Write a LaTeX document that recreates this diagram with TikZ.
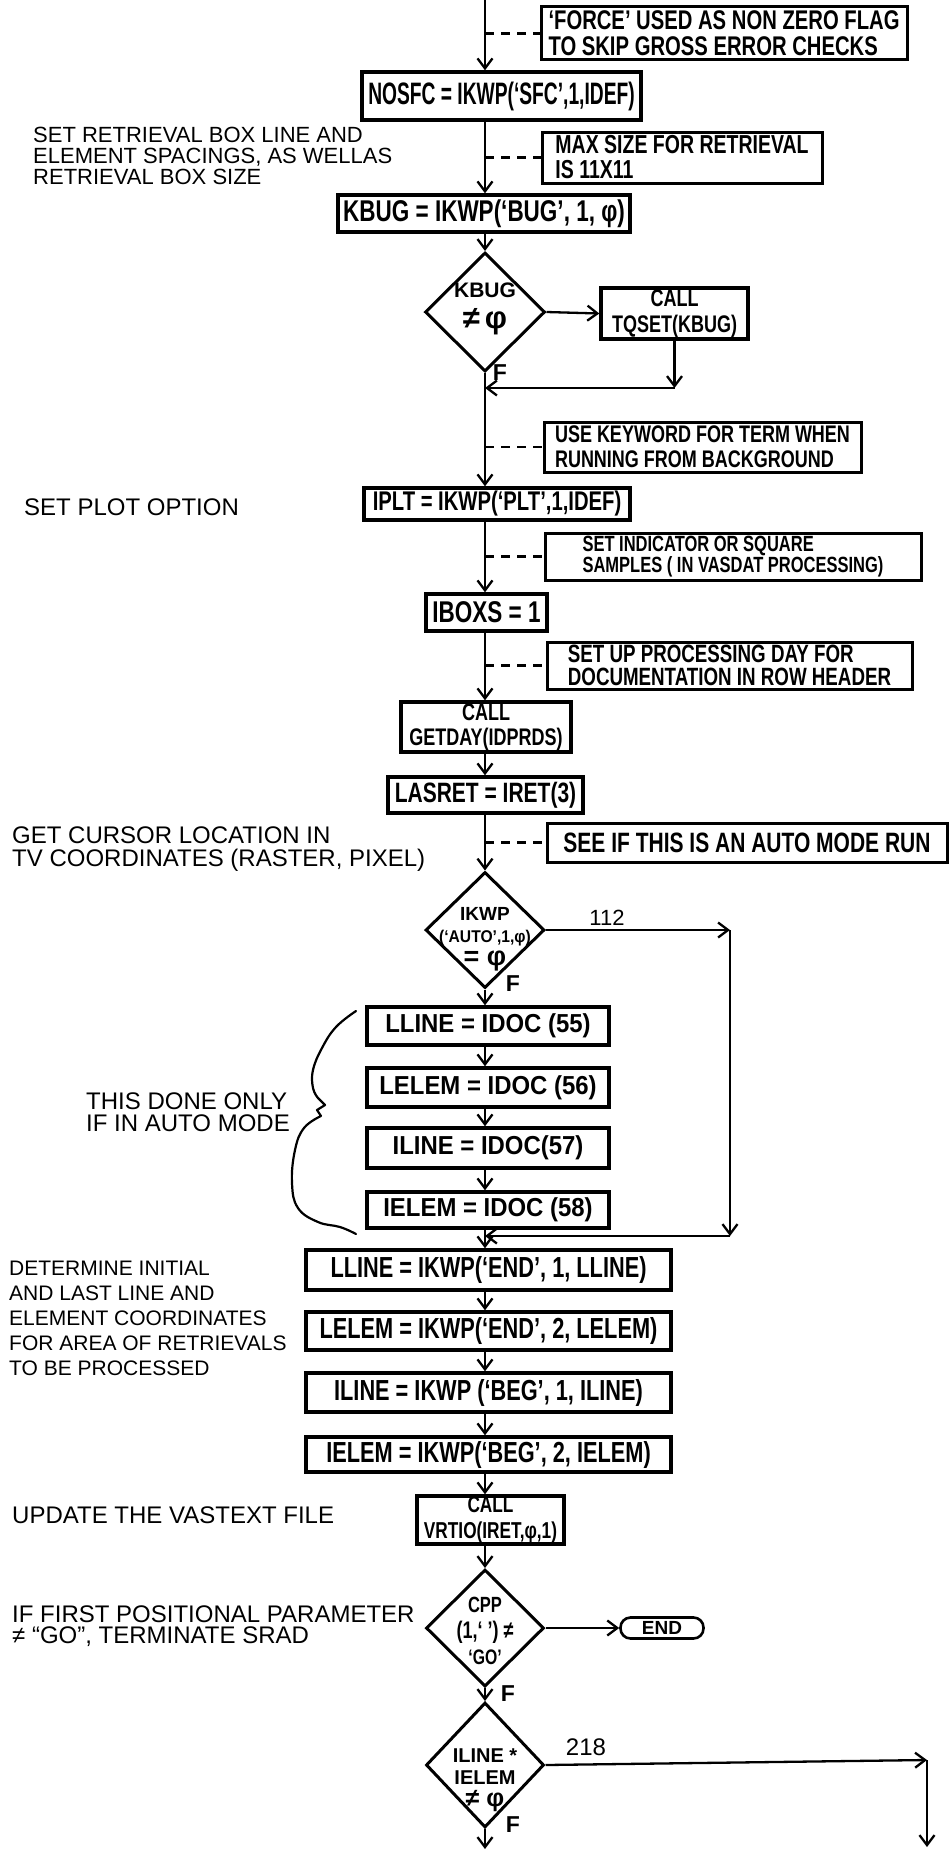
\documentclass[tikz,border=0pt]{standalone}
\usepackage{fontspec}
\setmainfont{Liberation Sans}
\newfontfamily\nfont{Liberation Sans}[FakeStretch=0.62]
\newfontfamily\mfont{Liberation Sans}[FakeStretch=0.75]
\newfontfamily\wfont{Liberation Sans}[FakeStretch=0.92]
\usetikzlibrary{arrows.meta,shapes.geometric}
\newcommand\fsz[2]{\fontsize{#1}{#2}\selectfont}

\tikzset{
  flow/.style={line width=2.3pt},
  arr/.style={line width=2.3pt,-{Straight Barb[length=10pt,width=15pt]}},
  dashlink/.style={line width=2.5pt,dash pattern=on 9pt off 7pt},
  pbox/.style={draw,line width=3.4pt,inner sep=0pt,align=center},
  cbox/.style={draw,line width=3pt,inner sep=0pt,align=left,font=\mfont\bfseries\fsz{26}{25}},
  dec/.style={diamond,draw,line width=3pt,inner sep=0pt},
  dtext/.style={inner sep=0pt,align=center},
  note/.style={anchor=west,inner sep=0pt,align=left,font=\fsz{24}{22}},
  lbl/.style={inner sep=0pt,font=\bfseries\fsz{23}{23}},
  term/.style={draw,line width=2.6pt,rounded corners=10pt,inner sep=0pt},
}

\begin{document}
\begin{tikzpicture}[x=1pt,y=-1pt]
\fill[white] (0,0) rectangle (950,1852);
\useasboundingbox (0,0) rectangle (950,1852);

% spine of the main flow
\coordinate (sp) at (485,0);

% ---------- process boxes ----------
\node[pbox,minimum width=279pt,minimum height=48pt,font=\nfont\bfseries\fsz{31}{30}] (nosfc) at (501.5,96) {NOSFC = IKWP(‘SFC’,1,IDEF)};
\node[pbox,minimum width=292pt,minimum height=37pt,font=\mfont\bfseries\fsz{30}{30}] (kbugbox) at (484,213.5) {KBUG = IKWP(‘BUG’, 1, φ)};
\node[pbox,minimum width=147pt,minimum height=51pt,font=\mfont\bfseries\fsz{24}{26}] (tqset) at (674.5,313.5) {CALL\\TQSET(KBUG)};
\node[pbox,minimum width=266pt,minimum height=32pt,font=\mfont\bfseries\fsz{27}{28}] (iplt) at (497,504) {IPLT = IKWP(‘PLT’,1,IDEF)};
\node[pbox,minimum width=121pt,minimum height=37pt,font=\mfont\bfseries\fsz{30}{30}] (iboxs) at (486.5,612.5) {IBOXS = 1};
\node[pbox,minimum width=170pt,minimum height=50pt,font=\mfont\bfseries\fsz{24}{25}] (getday) at (486,727) {CALL\\GETDAY(IDPRDS)};
\node[pbox,minimum width=195pt,minimum height=36pt,font=\mfont\bfseries\fsz{28}{28}] (lasret) at (485.5,795) {LASRET = IRET(3)};

\node[pbox,minimum width=242pt,minimum height=38pt,font=\wfont\bfseries\fsz{26}{27}] (llidoc) at (488,1026) {LLINE = IDOC (55)};
\node[pbox,minimum width=242pt,minimum height=39pt,font=\wfont\bfseries\fsz{26}{27}] (leidoc) at (488,1087.5) {LELEM = IDOC (56)};
\node[pbox,minimum width=242pt,minimum height=40pt,font=\wfont\bfseries\fsz{26}{27}] (ilidoc) at (488,1148) {ILINE = IDOC(57)};
\node[pbox,minimum width=242pt,minimum height=36pt,font=\wfont\bfseries\fsz{26}{27}] (ieidoc) at (488,1210) {IELEM = IDOC (58)};

\node[pbox,minimum width=365pt,minimum height=40pt,font=\mfont\bfseries\fsz{29}{30}] (llkwp) at (488.5,1270) {LLINE = IKWP(‘END’, 1, LLINE)};
\node[pbox,minimum width=365pt,minimum height=38pt,font=\mfont\bfseries\fsz{29}{30}] (lekwp) at (488.5,1331) {LELEM = IKWP(‘END’, 2, LELEM)};
\node[pbox,minimum width=365pt,minimum height=39pt,font=\mfont\bfseries\fsz{29}{30}] (ilkwp) at (488.5,1392.5) {ILINE = IKWP (‘BEG’, 1, ILINE)};
\node[pbox,minimum width=365pt,minimum height=35pt,font=\mfont\bfseries\fsz{29}{30}] (iekwp) at (488.5,1454.5) {IELEM = IKWP(‘BEG’, 2, IELEM)};

\node[pbox,minimum width=147pt,minimum height=48pt,font=\mfont\bfseries\fsz{23}{26}] (vrtio) at (490.5,1520) {CALL\\VRTIO(IRET,φ,1)};

% ---------- decisions ----------
\node[dec,minimum width=120pt,minimum height=119pt] (kbugd) at (485,312) {};
\node[dtext,font=\bfseries\fsz{21}{31}] (kbugt) at (485,309) {KBUG\\\fsz{31}{31}≠\,φ};

\node[dec,minimum width=119pt,minimum height=116pt] (autod) at (485,930) {};
\node[dtext,font=\bfseries\fsz{19}{22}] (autot) at (485,939) {IKWP\\\wfont\fsz{17}{22}(‘AUTO’,1,φ)\\[1pt]\fsz{27}{22}= φ};

\node[dec,minimum width=118pt,minimum height=117pt] (cppd) at (485,1628) {};
\node[dtext,font=\mfont\bfseries\fsz{22}{26}] (cppt) at (485,1631) {CPP\\\fsz{24}{26}(1,‘ ’) ≠\\\fsz{21}{26}‘GO’};

\node[dec,minimum width=118pt,minimum height=125pt] (ilied) at (485,1765) {};
\node[dtext,font=\bfseries\fsz{20}{22}] (iliet) at (485,1780) {ILINE *\\IELEM\\\fsz{25}{22}≠ φ};

\node[term,minimum width=83pt,minimum height=21pt,font=\bfseries\fsz{19}{20}] (endt) at (662,1628) {END};

% ---------- comment boxes ----------
\node[cbox,minimum width=366pt,minimum height=53pt,font=\mfont\bfseries\fsz{27}{26}] (force) at (724,33.5) {‘FORCE’ USED AS NON ZERO FLAG\\TO SKIP GROSS ERROR CHECKS};
\node[cbox,minimum width=280pt,minimum height=51pt] (maxsz) at (682,157.5) {MAX SIZE FOR RETRIEVAL\\IS 11X11};
\node[cbox,minimum width=317pt,minimum height=50pt,font=\mfont\bfseries\fsz{24}{25}] (usekw) at (702.5,447) {USE KEYWORD FOR TERM WHEN\\RUNNING FROM BACKGROUND};
\node[cbox,minimum width=376pt,minimum height=47pt,font=\mfont\bfseries\fsz{22}{21}] (setind) at (733,556.5) {SET INDICATOR OR SQUARE\\SAMPLES ( IN VASDAT PROCESSING)};
\node[cbox,minimum width=365pt,minimum height=47pt,font=\mfont\bfseries\fsz{25}{23}] (setup) at (729.5,665.5) {SET UP PROCESSING DAY FOR\\DOCUMENTATION IN ROW HEADER};
\node[cbox,minimum width=400pt,minimum height=39pt,font=\mfont\bfseries\fsz{28}{28}] (seeif) at (747,842.5) {SEE IF THIS IS AN AUTO MODE RUN};

% ---------- side notes ----------
\node[note,font=\fsz{22}{21}] (setret) at (33,156) {SET RETRIEVAL BOX LINE AND\\ELEMENT SPACINGS, AS WELLAS\\RETRIEVAL BOX SIZE};
\node[note] (setplot) at (24,507) {SET PLOT OPTION};
\node[note,font=\fsz{24}{23}] (getcur) at (12,849) {GET CURSOR LOCATION IN\\TV COORDINATES (RASTER, PIXEL)};
\node[note] (thisdone) at (86,1112) {THIS DONE ONLY\\IF IN AUTO MODE};
\node[note,font=\fsz{21}{25}] (determine) at (9,1318) {DETERMINE INITIAL\\AND LAST LINE AND\\ELEMENT COORDINATES\\FOR AREA OF RETRIEVALS\\TO BE PROCESSED};
\node[note] (update) at (12,1515) {UPDATE THE VASTEXT FILE};
\node[note,font=\fsz{24}{21}] (iffirst) at (12,1626) {IF FIRST POSITIONAL PARAMETER\\≠ “GO”, TERMINATE SRAD};

% ---------- branch labels ----------
\node[lbl] (f1) at (500,373) {F};
\node[lbl] (f2) at (513,984) {F};
\node[lbl] (f3) at (508,1694) {F};
\node[lbl] (f4) at (513,1825) {F};
\node[lbl,font=\fsz{22}{22}] (l112) at (607,918) {112};
\node[lbl,font=\fsz{24}{24}] (l218) at (586,1747) {218};

% ---------- connector corner points ----------
\coordinate (topin) at (485,0);
\coordinate (mr) at (674.5,388);
\coordinate (c112) at (730,930);
\coordinate (j112) at (730,1236);
\coordinate (c218) at (927,1760);
\coordinate (e218) at (927,1847);
\coordinate (outF) at (485,1849);

% ---------- main flow ----------
\draw[arr] (topin) -- (topin |- nosfc.north);
\draw[arr] (sp |- nosfc.south) -- (sp |- kbugbox.north);
\draw[arr] (sp |- kbugbox.south) -- (kbugd.north);
\draw[arr] (kbugd.east) -- (tqset.west);
\draw[arr] (tqset.south) -- (mr);
\draw[arr] (mr) -- (mr -| sp);
\draw[arr] (kbugd.south) -- (sp |- iplt.north);
\draw[arr] (sp |- iplt.south) -- (sp |- iboxs.north);
\draw[arr] (sp |- iboxs.south) -- (sp |- getday.north);
\draw[arr] (sp |- getday.south) -- (sp |- lasret.north);
\draw[arr] (sp |- lasret.south) -- (autod.north);
\draw[arr] (autod.east) -- (c112);
\draw[arr] (c112) -- (j112);
\draw[arr] (j112) -- (j112 -| sp);
\draw[arr] (autod.south) -- (sp |- llidoc.north);
\draw[arr] (sp |- llidoc.south) -- (sp |- leidoc.north);
\draw[arr] (sp |- leidoc.south) -- (sp |- ilidoc.north);
\draw[arr] (sp |- ilidoc.south) -- (sp |- ieidoc.north);
\draw[arr] (sp |- ieidoc.south) -- (sp |- llkwp.north);
\draw[arr] (sp |- llkwp.south) -- (sp |- lekwp.north);
\draw[arr] (sp |- lekwp.south) -- (sp |- ilkwp.north);
\draw[arr] (sp |- ilkwp.south) -- (sp |- iekwp.north);
\draw[arr] (sp |- iekwp.south) -- (sp |- vrtio.north);
\draw[arr] (sp |- vrtio.south) -- (cppd.north);
\draw[arr] (cppd.east) -- (endt.west);
\draw[arr] (cppd.south) -- (ilied.north);
\draw[arr] (ilied.east) -- (c218);
\draw[arr] (c218) -- (e218);
\draw[arr] (ilied.south) -- (outF);

% ---------- dashed annotation links ----------
\draw[dashlink] (sp |- force.west) -- (force.west);
\draw[dashlink] (sp |- maxsz.west) -- (maxsz.west);
\draw[dashlink] (sp |- usekw.west) -- (usekw.west);
\draw[dashlink] (sp |- setind.west) -- (setind.west);
\draw[dashlink] (sp |- setup.west) -- (setup.west);
\draw[dashlink] (sp |- seeif.west) -- (seeif.west);

% ---------- brace grouping the IDOC boxes ----------
\draw[line width=2.2pt,line cap=round,line join=round]
  plot[smooth,tension=0.7] coordinates {(356,1011) (336,1027) (322,1048) (313,1070) (313,1088) (318,1098)}
  -- (325,1105) -- (317,1110) -- (321,1116)
  plot[smooth,tension=0.7] coordinates {(321,1116) (304,1128) (295,1150) (292,1183) (298,1208) (318,1222) (340,1227) (356,1234)};
\end{tikzpicture}
\end{document}
